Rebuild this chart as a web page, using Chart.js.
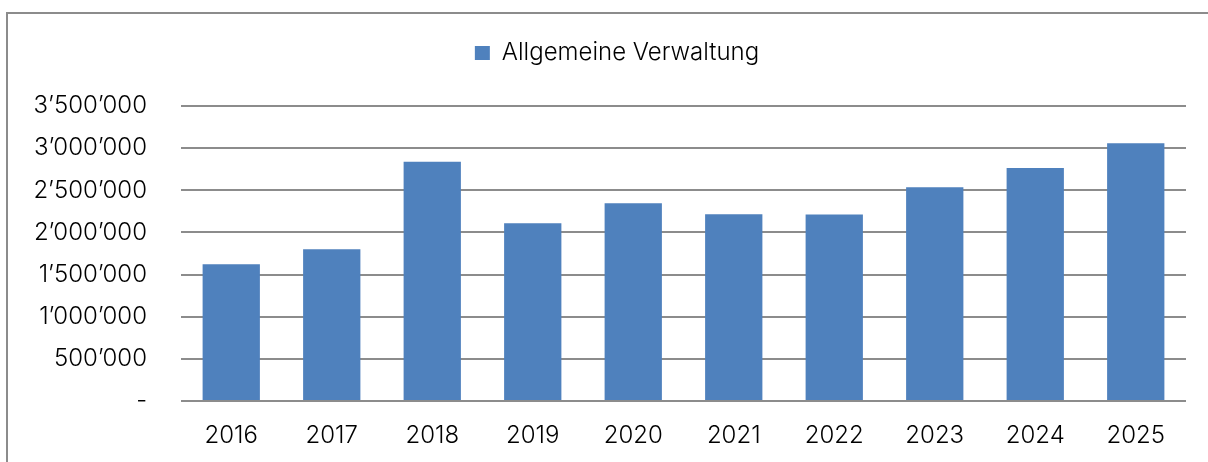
<!DOCTYPE html>
<html>
<head>
<meta charset="utf-8">
<script src="https://cdn.jsdelivr.net/npm/chart.js@4/dist/chart.umd.min.js"></script>
<style>
html,body{margin:0;padding:0;background:#fff;overflow:hidden;}
#wrap{position:absolute;left:0;top:0;width:1208px;height:462px;}
#frame{position:absolute;left:6px;top:12px;width:1300px;height:600px;border:2px solid #8c8c8c;pointer-events:none;box-sizing:border-box;}
</style>
</head>
<body>
<div id="wrap"><canvas id="c" width="1208" height="462"></canvas></div>
<div id="frame"></div>
<script>
const categories = ['2016','2017','2018','2019','2020','2021','2022','2023','2024','2025'];
const seriesName = 'Allgemeine Verwaltung';
const values = [1622000, 1800000, 2840000, 2110000, 2347000, 2217000, 2212000, 2537000, 2763000, 3057000];
const yTickValues = [0, 500000, 1000000, 1500000, 2000000, 2500000, 3000000, 3500000];

function fmt(v){
  if (v === 0) return '-';
  return String(v).replace(/\B(?=(\d{3})+(?!\d))/g, '\u2019');
}

const FONT = "Inter, 'Liberation Sans', Arial, sans-serif";

const legendGap = {
  id: 'legendGap',
  afterInit(chart){
    const lg = chart.legend;
    if (!lg) return;
    const orig = lg.fit.bind(lg);
    lg.fit = function(){ orig(); this.height += 31; };
  },
  afterLayout(chart){
    const lg = chart.legend;
    if (!lg) return;
    lg.left += 24;
    lg.right += 24;
  }
};

new Chart(document.getElementById('c'), {
  type: 'bar',
  data: {
    labels: categories,
    datasets: [{
      label: seriesName,
      data: values,
      backgroundColor: '#4f81bd',
      borderWidth: 0,
      barPercentage: 0.57,
      categoryPercentage: 1.0
    }]
  },
  options: {
    responsive: false,
    animation: false,
    devicePixelRatio: 1,
    layout: { padding: { left: 0, right: 22, top: 15, bottom: 0 } },
    plugins: {
      tooltip: { enabled: false },
      legend: {
        display: true,
        position: 'top',
        labels: {
          boxWidth: 15,
          boxHeight: 14,
          padding: 26,
          color: '#000',
          font: { family: FONT, size: 24, weight: '300' }
        }
      }
    },
    scales: {
      x: {
        grid: { display: false, drawTicks: false },
        border: { display: false },
        ticks: { color: '#000', font: { family: FONT, size: 24, weight: '300' }, padding: 20, maxRotation: 0 },
        afterFit: function(s){ s.height = 61; }
      },
      y: {
        min: 0,
        max: 3500000,
        afterBuildTicks: function(s){ s.ticks = yTickValues.map(v => ({ value: v })); },
        grid: { color: '#8c8c8c', lineWidth: 2, drawTicks: false },
        border: { display: false },
        ticks: {
          color: '#000',
          font: { family: FONT, size: 24, weight: '300' },
          padding: 34,
          callback: function(v){ return fmt(v); }
        },
        afterFit: function(s){ s.width = 181; }
      }
    }
  },
  plugins: [legendGap]
});
</script>
</body>
</html>
